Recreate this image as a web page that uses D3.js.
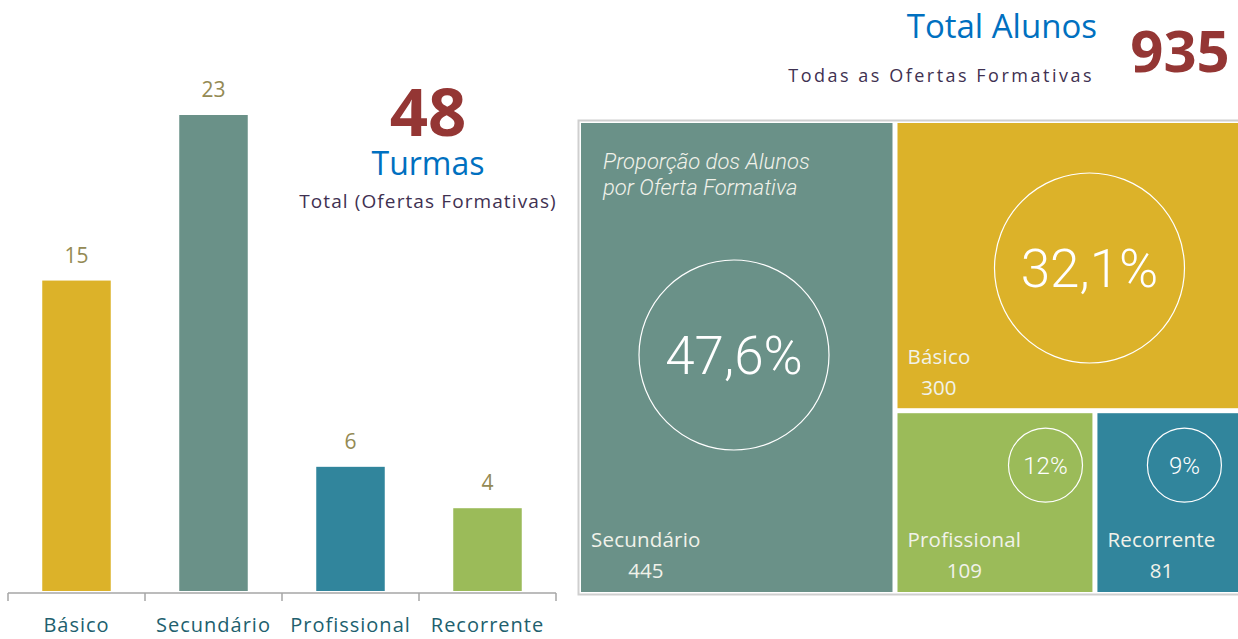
<!DOCTYPE html>
<html>
<head>
<meta charset="utf-8">
<script src="https://cdn.jsdelivr.net/npm/d3@7"></script>
<style>
  body { margin: 0; background: #fff; }
  svg { display: block; }
</style>
</head>
<body>
<svg id="chart" width="1238" height="639"></svg>
<script>
// Turmas by oferta formativa (bar chart)
const barCategories = ["Básico", "Secundário", "Profissional", "Recorrente"];
const barValues = [15, 23, 6, 4];
const barColors = ["#dcb229", "#6a9188", "#31859c", "#9bbb59"];

// Alunos by oferta formativa (treemap)
const tmCategories = ["Secundário", "Básico", "Profissional", "Recorrente"];
const tmValues = [445, 300, 109, 81];
const tmPercents = ["47,6%", "32,1%", "12%", "9%"];
const tmColors = ["#6a9188", "#dcb229", "#9bbb59", "#31859c"];

const totalTurmas = 48;
const totalAlunos = 935;

const svg = d3.select("#chart");

// ---- bar chart ----
const BASE_Y = 591;

const x = d3.scaleBand()
  .domain(barCategories)
  .range([8, 556])
  .paddingInner(0.5)
  .paddingOuter(0.25);

const y = d3.scaleLinear()
  .domain([0, d3.max(barValues)])
  .range([BASE_Y, 115]);

const bars = svg.append("g");

bars.selectAll("rect")
  .data(barCategories)
  .join("rect")
  .attr("x", (d) => x(d))
  .attr("y", (d, i) => y(barValues[i]))
  .attr("width", x.bandwidth())
  .attr("height", (d, i) => BASE_Y - y(barValues[i]))
  .attr("fill", (d, i) => barColors[i]);

bars.selectAll("text")
  .data(barCategories)
  .join("text")
  .attr("x", (d) => x(d) + x.bandwidth() / 2)
  .attr("y", (d, i) => y(barValues[i]) - 18)
  .attr("text-anchor", "middle")
  .attr("font-family", "Open Sans")
  .attr("font-size", 21)
  .attr("fill", "#948a54")
  .text((d, i) => barValues[i]);

// axis: line with ticks at the band boundaries
const axisG = svg.append("g").attr("transform", `translate(0,${BASE_Y + 2})`);
const step = x.step();
const edges = d3.range(barCategories.length + 1).map((i) => x.range()[0] + i * step);

axisG.append("line")
  .attr("x1", edges[0])
  .attr("x2", edges.at(-1))
  .attr("stroke", "#a6a6a6")
  .attr("stroke-width", 1.5);

axisG.selectAll(".tick")
  .data(edges)
  .join("line")
  .attr("class", "tick")
  .attr("x1", (d) => d)
  .attr("x2", (d) => d)
  .attr("y1", 0)
  .attr("y2", 8)
  .attr("stroke", "#a6a6a6")
  .attr("stroke-width", 1.5);

axisG.selectAll(".lbl")
  .data(barCategories)
  .join("text")
  .attr("class", "lbl")
  .attr("x", (d) => x(d) + x.bandwidth() / 2)
  .attr("y", 39)
  .attr("text-anchor", "middle")
  .attr("font-family", "Open Sans")
  .attr("font-size", 20)
  .attr("letter-spacing", 1)
  .attr("fill", "#215f6e")
  .text((d) => d);

// turmas total
svg.append("text")
  .attr("x", 428).attr("y", 136)
  .attr("text-anchor", "middle")
  .attr("font-family", "Open Sans")
  .attr("font-weight", "bold")
  .attr("font-size", 67)
  .attr("fill", "#943634")
  .text(totalTurmas);

svg.append("text")
  .attr("x", 428).attr("y", 175)
  .attr("text-anchor", "middle")
  .attr("font-family", "Open Sans")
  .attr("font-size", 32)
  .attr("fill", "#0070c0")
  .text("Turmas");

svg.append("text")
  .attr("x", 428).attr("y", 208)
  .attr("text-anchor", "middle")
  .attr("font-family", "Open Sans")
  .attr("font-size", 19)
  .attr("letter-spacing", 1.1)
  .attr("fill", "#3f3151")
  .text("Total (Ofertas Formativas)");

// ---- header right ----
svg.append("text")
  .attr("x", 1097).attr("y", 38)
  .attr("text-anchor", "end")
  .attr("font-family", "Open Sans")
  .attr("font-size", 33)
  .attr("fill", "#0070c0")
  .text("Total Alunos");

svg.append("text")
  .attr("x", 1094).attr("y", 82)
  .attr("text-anchor", "end")
  .attr("font-family", "Open Sans")
  .attr("font-size", 18)
  .attr("letter-spacing", 2.5)
  .attr("fill", "#3f3151")
  .text("Todas as Ofertas Formativas");

svg.append("text")
  .attr("x", 1180).attr("y", 72)
  .attr("text-anchor", "middle")
  .attr("font-family", "Open Sans")
  .attr("font-weight", "bold")
  .attr("font-size", 58)
  .attr("fill", "#943634")
  .text(totalAlunos);

// ---- treemap ----
const TM = { x0: 581, y0: 123, x1: 1238, y1: 592 };

svg.append("rect")
  .attr("x", 578.5).attr("y", 120.5)
  .attr("width", 670).attr("height", 474)
  .attr("fill", "#fff")
  .attr("stroke", "#cfcfcf")
  .attr("stroke-width", 2);

const root = d3.hierarchy({
  children: tmCategories.map((name, i) => ({ name, value: tmValues[i], pct: tmPercents[i], color: tmColors[i] }))
}).sum((d) => d.value || 0);

d3.treemap()
  .tile(d3.treemapBinary)
  .size([TM.x1 - TM.x0 + 3, TM.y1 - TM.y0])
  .paddingInner(5)(root);

const cells = svg.append("g")
  .attr("transform", `translate(${TM.x0},${TM.y0})`)
  .selectAll("g")
  .data(root.leaves())
  .join("g")
  .attr("transform", (d) => `translate(${d.x0},${d.y0})`);

cells.append("rect")
  .attr("width", (d) => d.x1 - d.x0)
  .attr("height", (d) => d.y1 - d.y0)
  .attr("fill", (d) => d.data.color);

// percentage circles: big ones for the two large cells, small for the others
const circleSpec = {
  "Secundário": { cx: 153, cy: 232, r: 95, fs: 53 },
  "Básico": { cx: 192, cy: 145, r: 95, fs: 53 },
  "Profissional": { cx: 148, cy: 52, r: 37, fs: 24 },
  "Recorrente": { cx: 87, cy: 52, r: 37, fs: 24 },
};

cells.append("circle")
  .attr("cx", (d) => circleSpec[d.data.name].cx)
  .attr("cy", (d) => circleSpec[d.data.name].cy)
  .attr("r", (d) => circleSpec[d.data.name].r)
  .attr("fill", "none")
  .attr("stroke", "#fff")
  .attr("stroke-width", 1.2);

cells.append("text")
  .attr("x", (d) => circleSpec[d.data.name].cx)
  .attr("y", (d) => circleSpec[d.data.name].cy)
  .attr("dy", "0.36em")
  .attr("text-anchor", "middle")
  .attr("font-family", "Roboto")
  .attr("font-weight", 300)
  .attr("font-size", (d) => circleSpec[d.data.name].fs)
  .attr("fill", "#fff")
  .text((d) => d.data.pct);

const nameLabels = cells.append("text")
  .attr("x", 10)
  .attr("y", (d) => d.data.name === "Básico" ? 241 : (d.y1 - d.y0) - 45)
  .attr("font-family", "Open Sans")
  .attr("font-size", 20.5)
  .attr("letter-spacing", 0.2)
  .attr("fill", "#f1f2ea")
  .text((d) => d.data.name);

cells.append("text")
  .attr("x", function (d, i) {
    return 10 + nameLabels.nodes()[i].getComputedTextLength() / 2;
  })
  .attr("y", (d) => d.data.name === "Básico" ? 272 : (d.y1 - d.y0) - 14)
  .attr("text-anchor", "middle")
  .attr("font-family", "Open Sans")
  .attr("font-size", 20.5)
  .attr("fill", "#f1f2ea")
  .text((d) => d.value);

// caption inside the first cell
const caption = svg.append("text")
  .attr("font-family", "Roboto")
  .attr("font-weight", 300)
  .attr("font-style", "italic")
  .attr("font-size", 22)
  .attr("fill", "#f1f2ea");

caption.append("tspan").attr("x", 603).attr("y", 169).text("Proporção dos Alunos");
caption.append("tspan").attr("x", 603).attr("y", 195).text("por Oferta Formativa");
</script>
</body>
</html>
